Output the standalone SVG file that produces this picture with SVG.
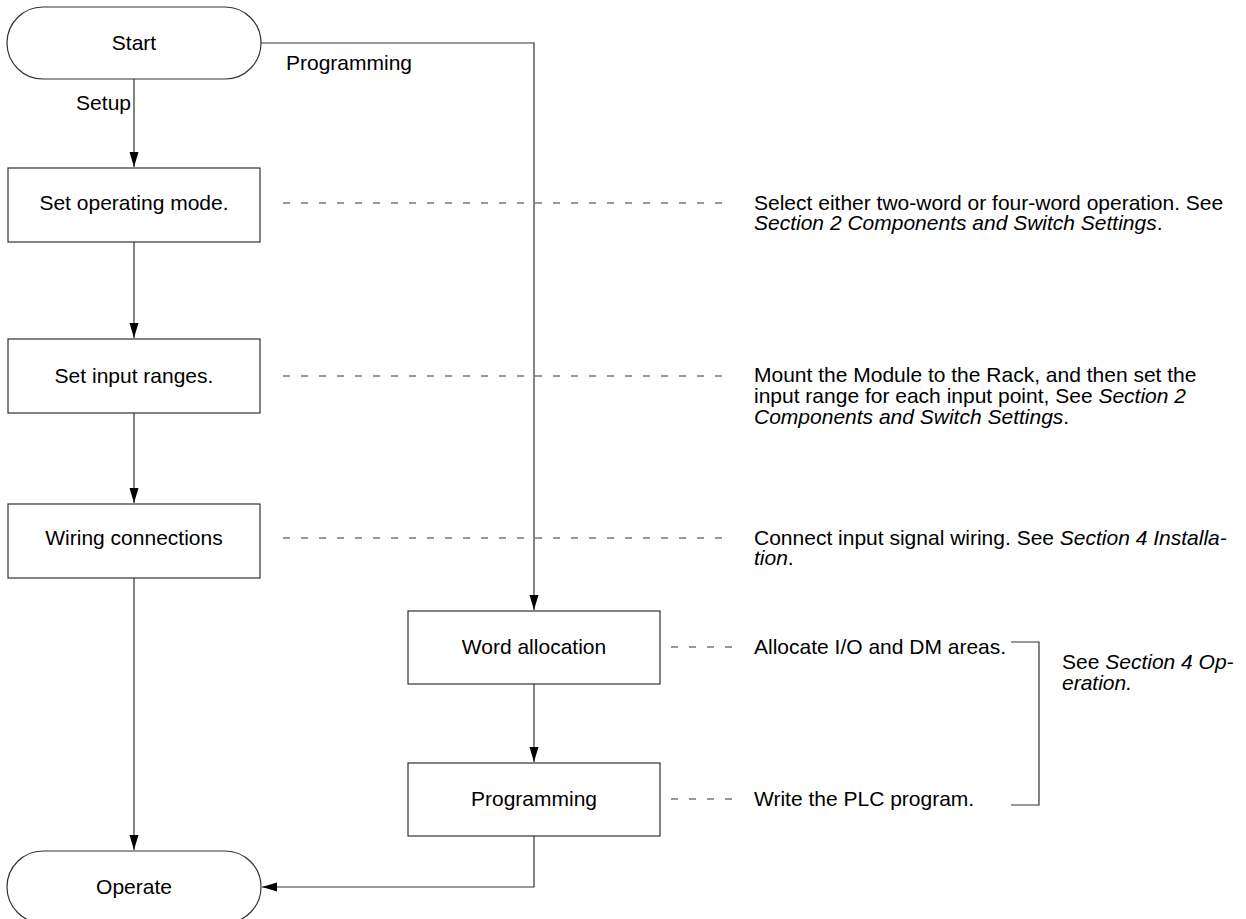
<svg xmlns="http://www.w3.org/2000/svg" width="1246" height="919" viewBox="0 0 1246 919">
<defs>
<marker id="arr" viewBox="0 0 15 10" refX="15" refY="5" markerWidth="15" markerHeight="10" markerUnits="userSpaceOnUse" orient="auto">
<path d="M0,0.5 L15,5 L0,9.5 Z" fill="#000"/>
</marker>
</defs>
<style>
text{font-family:"Liberation Sans",Arial,sans-serif;font-size:21px;fill:#000}
.c{text-anchor:middle}
.box{fill:#fff;stroke:#333;stroke-width:1.2}
.ln{fill:none;stroke:#333;stroke-width:1.2}
.dash{fill:none;stroke:#333;stroke-width:1;stroke-dasharray:7 11}
.i{font-style:italic}
</style>
<rect width="1246" height="919" fill="#fff"/>
<g id="connectors">
<path class="ln" d="M261,43 H534 V610" marker-end="url(#arr)"/>
<path class="ln" d="M134,79 V167" marker-end="url(#arr)"/>
<path class="ln" d="M134,242 V338" marker-end="url(#arr)"/>
<path class="ln" d="M134,413 V503" marker-end="url(#arr)"/>
<path class="ln" d="M134,578 V850" marker-end="url(#arr)"/>
<path class="ln" d="M534,684 V762" marker-end="url(#arr)"/>
<path class="ln" d="M534,836 V887 H262" marker-end="url(#arr)"/>
<path class="dash" d="M283,203 H728"/>
<path class="dash" d="M283,376 H728"/>
<path class="dash" d="M283,538 H728"/>
<path class="dash" d="M671,647 H732"/>
<path class="dash" d="M671,799 H732"/>
<path class="ln" d="M1011,642 H1039 V805 H1011"/>
<text x="286" y="70">Programming</text>
<text x="131" y="110" text-anchor="end">Setup</text>
</g>
<g id="start">
<rect class="box" x="7" y="7" width="254" height="72" rx="36" ry="36"/>
<text class="c" x="134" y="50">Start</text>
</g>
<g id="set-mode">
<rect class="box" x="8" y="168" width="252" height="74"/>
<text class="c" x="134" y="210">Set operating mode.</text>
</g>
<g id="set-ranges">
<rect class="box" x="8" y="339" width="252" height="74"/>
<text class="c" x="134" y="383">Set input ranges.</text>
</g>
<g id="wiring">
<rect class="box" x="8" y="504" width="252" height="74"/>
<text class="c" x="134" y="545">Wiring connections</text>
</g>
<g id="word-alloc">
<rect class="box" x="408" y="611" width="252" height="73"/>
<text class="c" x="534" y="654">Word allocation</text>
</g>
<g id="programming">
<rect class="box" x="408" y="763" width="252" height="73"/>
<text class="c" x="534" y="806">Programming</text>
</g>
<g id="operate">
<rect class="box" x="7" y="851" width="254" height="72" rx="36" ry="36"/>
<text class="c" x="134" y="894">Operate</text>
</g>
<g id="notes">
<text x="754" y="210">Select either two-word or four-word operation. See</text>
<text x="754" y="230"><tspan class="i">Section 2 Components and Switch Settings</tspan>.</text>
<text x="754" y="382">Mount the Module to the Rack, and then set the</text>
<text x="754" y="403">input range for each input point, See <tspan class="i">Section 2</tspan></text>
<text x="754" y="424"><tspan class="i">Components and Switch Settings</tspan>.</text>
<text x="754" y="545">Connect input signal wiring. See <tspan class="i">Section 4 Installa-</tspan></text>
<text x="754" y="565"><tspan class="i">tion</tspan>.</text>
<text x="754" y="654">Allocate I/O and DM areas.</text>
<text x="754" y="806">Write the PLC program.</text>
<text x="1062" y="669">See <tspan class="i">Section 4 Op-</tspan></text>
<text x="1062" y="690" class="i">eration.</text>
</g>
</svg>
